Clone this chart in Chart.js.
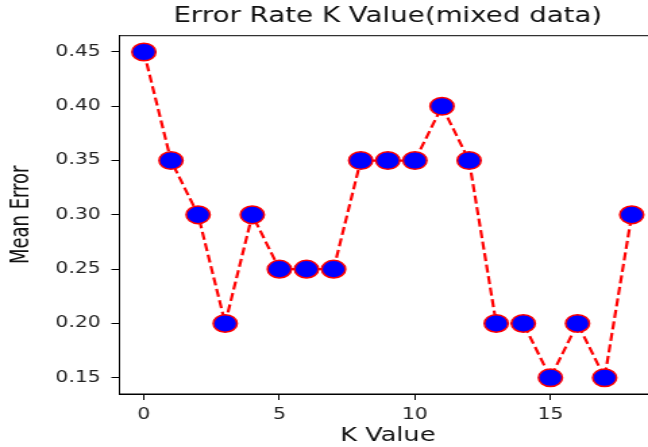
<!DOCTYPE html>
<html>
<head>
<meta charset="utf-8">
<script src="https://cdn.jsdelivr.net/npm/chart.js@4"></script>
<style>
  html, body { margin: 0; padding: 0; background: #fff; overflow: hidden; }
  #wrap { width: 648px; height: 447px; overflow: hidden; position: relative; }
  #chart { position: absolute; left: 0; top: 0; transform: scaleX(1.35); transform-origin: 0 0; }
</style>
</head>
<body>
<div id="wrap"><canvas id="chart" width="486" height="447"></canvas></div>
<script>
const kValues = [0, 1, 2, 3, 4, 5, 6, 7, 8, 9, 10, 11, 12, 13, 14, 15, 16, 17, 18];
const meanError = [0.45, 0.35, 0.30, 0.20, 0.30, 0.25, 0.25, 0.25, 0.35, 0.35, 0.35, 0.40, 0.35, 0.20, 0.20, 0.15, 0.20, 0.15, 0.30];
const xTicks = [0, 5, 10, 15];
const yTicks = [0.15, 0.20, 0.25, 0.30, 0.35, 0.40, 0.45];

// top/right frame like matplotlib axes
const frame = {
  id: 'frame',
  afterDraw(chart) {
    const {ctx, chartArea: a} = chart;
    ctx.save();
    ctx.strokeStyle = '#000';
    ctx.lineWidth = 1;
    ctx.strokeRect(a.left, a.top, a.right - a.left, a.bottom - a.top);
    ctx.restore();
  }
};

const tickFont = {family: 'DejaVu Sans', size: 15};

new Chart(document.getElementById('chart'), {
  type: 'line',
  data: {
    datasets: [{
      data: kValues.map((k, i) => ({x: k, y: meanError[i]})),
      borderColor: '#ff0000',
      borderWidth: 2.2,
      borderDash: [8, 3.6],
      pointStyle: 'circle',
      pointRadius: 8.8,
      pointBackgroundColor: '#0000ff',
      pointBorderColor: '#ff0000',
      pointBorderWidth: 1.5,
      tension: 0,
      fill: false
    }]
  },
  options: {
    responsive: false,
    animation: false,
    layout: {padding: 0, autoPadding: false},
    plugins: {
      legend: {display: false},
      tooltip: {enabled: false},
      title: {
        display: true,
        text: 'Error Rate K Value(mixed data)',
        fullSize: false,
        color: '#111',
        font: {family: 'DejaVu Sans', size: 20.5, weight: 'normal', lineHeight: 1.2},
        padding: {top: 4, bottom: 7.1}
      }
    },
    scales: {
      x: {
        type: 'linear',
        min: -0.9,
        max: 18.9,
        afterBuildTicks: s => { s.ticks = xTicks.map(v => ({value: v})); },
        afterFit: s => { s.height = 53; s.paddingLeft = 0; s.paddingRight = 0; },
        ticks: {color: '#222', font: tickFont, padding: 6, maxRotation: 0},
        grid: {drawOnChartArea: false, drawTicks: true, tickLength: 6, color: '#000'},
        border: {display: true, color: '#000', width: 1},
        title: {
          display: true,
          text: 'K Value',
          color: '#111',
          font: {family: 'DejaVu Sans', size: 19},
          padding: {top: 0, bottom: 0}
        }
      },
      y: {
        type: 'linear',
        min: 0.135,
        max: 0.465,
        afterBuildTicks: s => { s.ticks = yTicks.map(v => ({value: v})); },
        afterFit: s => { s.width = 88.5; s.paddingTop = 0; s.paddingBottom = 0; },
        ticks: {color: '#222', font: tickFont, padding: 8, callback: v => v.toFixed(2)},
        grid: {drawOnChartArea: false, drawTicks: true, tickLength: 6, color: '#000'},
        border: {display: true, color: '#000', width: 1},
        title: {
          display: true,
          text: 'Mean Error',
          color: '#111',
          font: {family: '"Liberation Sans Narrow", "DejaVu Sans Condensed", sans-serif', size: 20},
          padding: {top: 4, bottom: 0}
        }
      }
    }
  },
  plugins: [frame]
});
</script>
</body>
</html>
